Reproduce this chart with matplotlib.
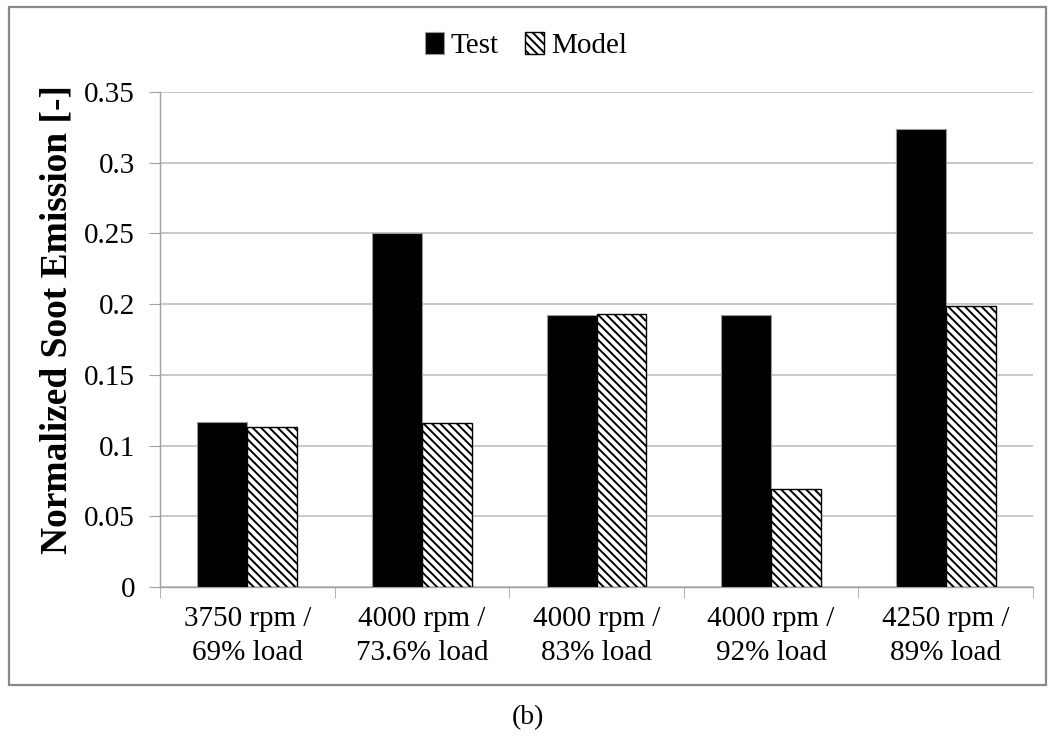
import numpy as np
import matplotlib.pyplot as plt
from matplotlib.patches import Rectangle

# -----------------------------
# Data
# -----------------------------
categories = ["3750 rpm /\n69% load", "4000 rpm /\n73.6% load", "4000 rpm /\n83% load",
              "4000 rpm /\n92% load", "4250 rpm /\n89% load"]
test_vals = [0.117, 0.250, 0.192, 0.192, 0.324]
model_vals = [0.113, 0.116, 0.193, 0.069, 0.199]

plt.rcParams['font.family'] = ['Liberation Serif', 'DejaVu Serif']
plt.rcParams['hatch.linewidth'] = 1.4

fig = plt.figure(figsize=(10.48, 7.38), dpi=100)
ax = fig.add_axes([0.1527, 0.2046, 0.833, 0.6707])

x = np.arange(len(categories))
w = 0.286
ax.bar(x - w / 2, test_vals, w, color="black", edgecolor="#999999", linewidth=0.8,
       label="Test", zorder=3)
ax.bar(x + w / 2, model_vals, w, color="white", edgecolor="black", hatch="\\\\\\\\",
       linewidth=1.0, label="Model", zorder=3)

# axes styling
ax.set_xlim(-0.5, len(categories) - 0.5)
ax.set_ylim(0, 0.35)
ax.set_yticks(np.arange(0, 0.351, 0.05))
ax.set_yticklabels(["0", "0.05", "0.1", "0.15", "0.2", "0.25", "0.3", "0.35"])
ax.yaxis.grid(True, color="#c0c0c0", linewidth=1.2, zorder=0)
ax.set_axisbelow(True)
for s in ["top", "right"]:
    ax.spines[s].set_visible(False)
for s in ["left", "bottom"]:
    ax.spines[s].set_color("#a0a0a0")
    ax.spines[s].set_linewidth(1.0)

ax.set_xticks(x)
ax.set_xticklabels(categories, fontsize=21, linespacing=1.4)
ax.set_xticks(np.arange(-0.5, len(categories)), minor=True)
ax.tick_params(axis="x", which="major", length=0, pad=14)
ax.tick_params(axis="x", which="minor", length=8, color="#a0a0a0", direction="out")
ax.tick_params(axis="y", length=8, color="#a0a0a0", labelsize=21, pad=10)

ax.set_ylabel("Normalized Soot Emission [-]", fontsize=27, fontweight="bold")
ax.yaxis.set_label_coords(-0.098, 0.54)

fig.legend(loc="center", bbox_to_anchor=(0.502, 0.938), ncol=2, frameon=False, fontsize=21,
           handlelength=0.65, handleheight=0.75, handletextpad=0.25, columnspacing=0.9)

# outer frame around the chart area
fig.add_artist(Rectangle((9 / 1048, 53 / 738), 1037 / 1048, 678 / 738, transform=fig.transFigure,
                         fill=False, edgecolor="#888888", linewidth=1.6))

fig.text(0.504, 0.028, "(b)", ha="center", va="center", fontsize=20)

fig.savefig("out.png", dpi=100)
